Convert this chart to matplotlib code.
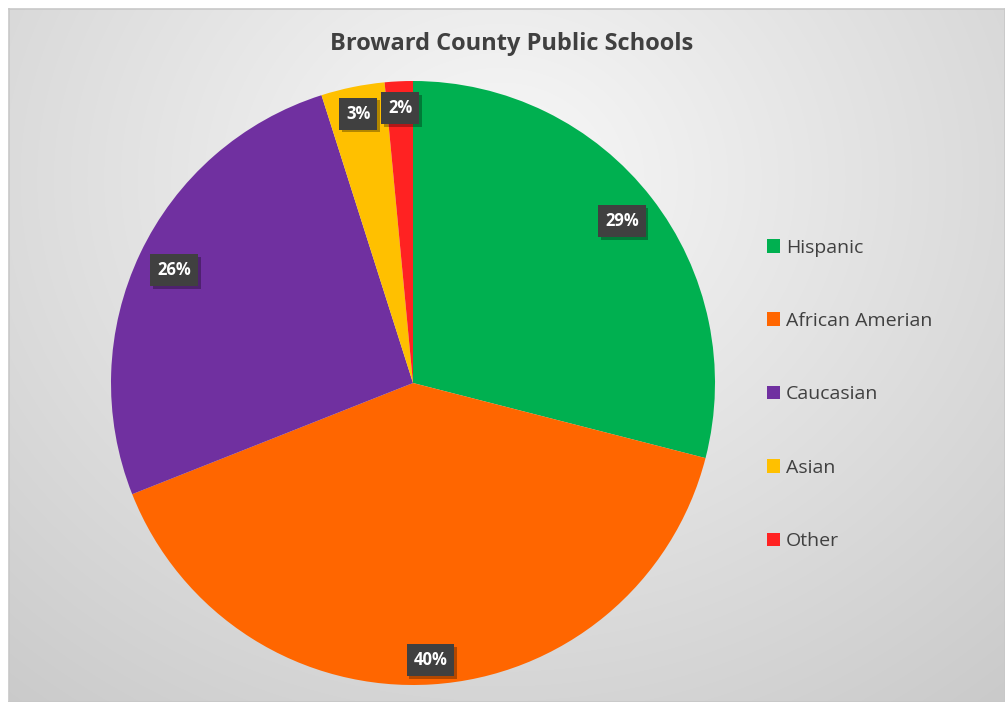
import numpy as np
import matplotlib
matplotlib.use("Agg")
import matplotlib.pyplot as plt
import matplotlib.patheffects as pe

# share of students by group
groups = ["Hispanic", "African Amerian", "Caucasian", "Asian", "Other"]
shares = [29.0, 40.0, 26.1, 3.4, 1.5]
pct_labels = ["29%", "40%", "26%", "3%", "2%"]
colors = ["#00b050", "#ff6600", "#7030a0", "#ffc000", "#ff2222"]
label_radius = [0.875, 0.92, 0.875, 0.91, 0.91]

W, H = 1005, 702
fig = plt.figure(figsize=(W / 100, H / 100), dpi=100)
fig.patch.set_facecolor("white")

# chart area background: soft radial gradient with a thin border
bg = fig.add_axes([9 / W, 0, (W - 9) / W, (H - 9) / H])
yy, xx = np.mgrid[0:H - 9, 0:W - 9]
dist = np.hypot((xx - 490) / 640, (yy - 170) / 560)
shade = np.clip(0.975 - 0.15 * dist, 0.78, 0.975)
bg.imshow(np.dstack([shade] * 3), aspect="auto", extent=[0, 1, 0, 1])
bg.set_xticks([])
bg.set_yticks([])
for s in bg.spines.values():
    s.set_color("#c8c8c8")
    s.set_linewidth(1.2)

fig.text(512 / W, 1 - 44 / H, "Broward County Public Schools", ha="center", va="center",
         fontsize=17, fontweight="bold", color="#404040", family="Open Sans")

cx, cy, r = 413, 383, 302
ax = fig.add_axes([(cx - r) / W, (H - cy - r) / H, 2 * r / W, 2 * r / H])
wedges, _ = ax.pie(shares, colors=colors, startangle=90, counterclock=False,
                   wedgeprops=dict(linewidth=0))
ax.set_xlim(-1, 1)
ax.set_ylim(-1, 1)
ax.axis("off")

for w, txt, rad in zip(wedges, pct_labels, label_radius):
    mid = np.deg2rad((w.theta1 + w.theta2) / 2)
    x, y = rad * np.cos(mid), rad * np.sin(mid)
    t = ax.text(x, y, txt, ha="center", va="center", fontsize=12, fontweight="bold",
                color="white", family="Open Sans",
                bbox=dict(boxstyle="square,pad=0.42", fc="#404040", ec="none"))
    t.get_bbox_patch().set_path_effects(
        [pe.SimplePatchShadow(offset=(2, -2), shadow_rgbFace="black", alpha=0.3), pe.Normal()])

leg = fig.legend(wedges, groups, loc="upper left", bbox_to_anchor=(749 / W, 1 - 221 / H),
                 frameon=False, handlelength=0.7, handleheight=0.7, handletextpad=0.3,
                 labelspacing=2.85, prop=dict(family="Open Sans", size=14))
for t in leg.get_texts():
    t.set_color("#404040")

fig.savefig("out.png", dpi=100)
